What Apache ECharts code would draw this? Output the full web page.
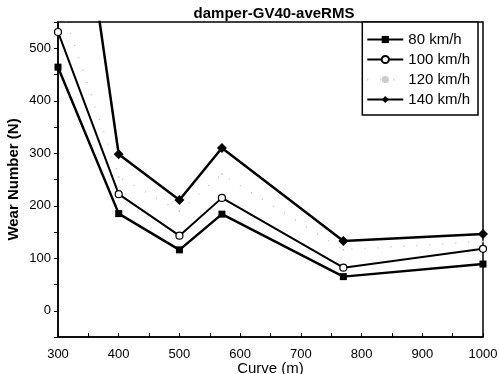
<!DOCTYPE html>
<html><head><meta charset="utf-8">
<script src="https://cdn.jsdelivr.net/npm/echarts@6/dist/echarts.min.js"></script>
<style>html,body{margin:0;padding:0;background:#fff}#c{width:499px;height:374px}</style>
</head><body><div id="c"></div>
<script>
const curves = [300, 400, 500, 570, 770, 1000];
const v80  = [464, 185, 116, 184, 65, 89];
const v100 = [531, 222, 143, 215, 82, 118];
const v120 = [600, 255, 190, 260, 116, 132];
const v140 = [1100, 298, 211, 310, 133, 146];
const yTicks = [0, 100, 200, 300, 400, 500];
const xTicks = [300, 400, 500, 600, 700, 800, 900, 1000];

const pairs = a => curves.map((c, i) => [c, a[i]]);
const F = 'Liberation Sans, Arial, sans-serif';
const chart = echarts.init(document.getElementById('c'));
chart.setOption({
  animation: false,
  title: { text: 'damper-GV40-aveRMS', left: 269, textAlign: 'center', top: 1,
    textStyle: { fontFamily: F, fontSize: 15, fontWeight: 'bold', color: '#000' } },
  grid: { left: 58, right: 16, top: 22, bottom: 37, show: true, borderColor: '#000', borderWidth: 1.5,
    containLabel: false, outerBoundsMode: 'none' },
  legend: {
    orient: 'vertical', right: 21, top: 22, itemWidth: 36, itemHeight: 9, itemGap: 5,
    padding: [10, 8, 8, 4], borderColor: '#000', borderWidth: 1.5, backgroundColor: '#fff',
    textStyle: { fontFamily: F, fontSize: 15, color: '#000' },
    data: ['80 km/h', '100 km/h', '120 km/h', '140 km/h']
  },
  xAxis: {
    type: 'value', min: 300, max: 1000, interval: 50,
    name: 'Curve (m)', nameLocation: 'middle', nameGap: 24, nameMoveOverlap: false,
    nameTextStyle: { fontFamily: F, fontSize: 15, color: '#000' },
    axisLine: { onZero: false, lineStyle: { color: '#000', width: 1.5 } },
    axisTick: { inside: true, length: 4, lineStyle: { color: '#000' } },
    splitLine: { show: false },
    axisLabel: { fontFamily: F, fontSize: 13, color: '#000', margin: 11,
      formatter: v => xTicks.includes(v) ? String(v) : '' }
  },
  yAxis: {
    type: 'value', min: -50, max: 550, interval: 50,
    name: 'Wear Number (N)', nameLocation: 'middle', nameGap: 37, nameMoveOverlap: false,
    nameTextStyle: { fontFamily: F, fontSize: 15, fontWeight: 'bold', color: '#000' },
    axisLine: { show: true, onZero: false, lineStyle: { color: '#000', width: 1.5 } },
    axisTick: { length: 4, lineStyle: { color: '#000' } },
    splitLine: { show: false },
    axisLabel: { fontFamily: F, fontSize: 13, color: '#000', margin: 7,
      formatter: v => yTicks.includes(v) ? String(v) : '' }
  },
  series: [
    { name: '80 km/h', type: 'line', data: pairs(v80), symbol: 'rect', symbolSize: 7,
      lineStyle: { color: '#000', width: 2.5 }, itemStyle: { color: '#000' } },
    { name: '100 km/h', type: 'line', data: pairs(v100), symbol: 'circle', symbolSize: 7,
      lineStyle: { color: '#000', width: 2 }, itemStyle: { color: '#fff', borderColor: '#000', borderWidth: 1.2 } },
    { name: '120 km/h', type: 'line', data: pairs(v120), symbol: 'circle', symbolSize: 2,
      lineStyle: { color: '#c4c4c4', width: 1.5, type: [1, 12] }, itemStyle: { color: '#ccc' } },
    { name: '140 km/h', type: 'line', data: pairs(v140), symbol: 'diamond', symbolSize: 10,
      lineStyle: { color: '#000', width: 2.5 }, itemStyle: { color: '#000' } }
  ]
});
</script></body></html>
